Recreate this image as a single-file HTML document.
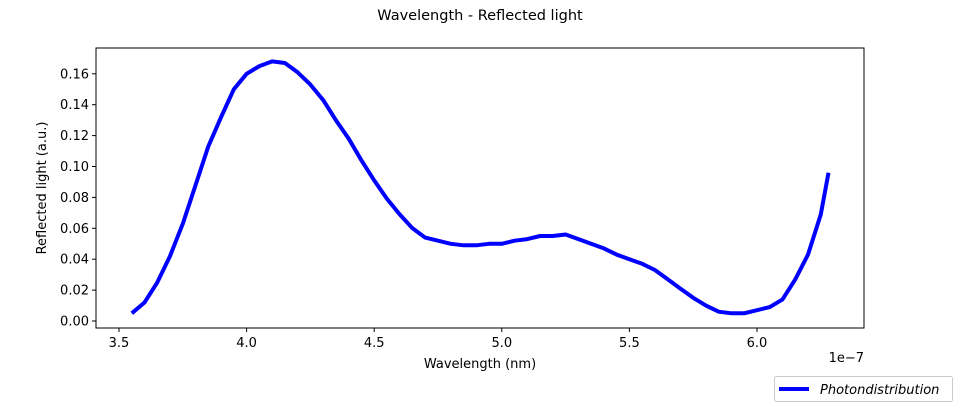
<!DOCTYPE html>
<html><head><meta charset="utf-8"><style>
body{margin:0;background:#fff;width:960px;height:409px;overflow:hidden}
svg text{font-family:"DejaVu Sans","Liberation Sans",sans-serif;fill:#000}
</style></head><body>
<svg id="chart" width="960" height="409" xmlns="http://www.w3.org/2000/svg">
<text x="480" y="20" font-size="14.5" text-anchor="middle">Wavelength - Reflected light</text>
<g id="ticks"></g>
<path id="line" fill="none" stroke="#0000ff" stroke-width="4" stroke-linejoin="round"/>
<rect x="96" y="48" width="768" height="280" fill="none" stroke="#000" stroke-width="1"/>
<text x="480" y="368" font-size="13" text-anchor="middle">Wavelength (nm)</text>
<text transform="translate(46,188) rotate(-90)" font-size="13" text-anchor="middle">Reflected light (a.u.)</text>
<text x="864" y="362" font-size="13" text-anchor="end">1e−7</text>
<g>
<rect x="774.5" y="376.5" width="178" height="25" rx="2" fill="#fff" stroke="#ccc"/>
<line x1="779" y1="389" x2="809" y2="389" stroke="#0000ff" stroke-width="4"/>
<text x="820" y="394" font-size="13" font-style="italic">Photondistribution</text>
</g>
</svg>
<script>
const wavelengths=[3.55,3.6,3.65,3.7,3.75,3.8,3.85,3.9,3.95,4.0,4.05,4.1,4.15,4.2,4.25,4.3,4.35,4.4,4.45,4.5,4.55,4.6,4.65,4.7,4.75,4.8,4.85,4.9,4.95,5.0,5.05,5.1,5.15,5.2,5.25,5.3,5.35,5.4,5.45,5.5,5.55,5.6,5.65,5.7,5.75,5.8,5.85,5.9,5.95,6.0,6.05,6.1,6.15,6.2,6.25,6.28];
const reflected=[0.005,0.012,0.025,0.042,0.063,0.088,0.113,0.132,0.150,0.160,0.165,0.168,0.167,0.161,0.153,0.143,0.130,0.118,0.104,0.091,0.079,0.069,0.060,0.054,0.052,0.050,0.049,0.049,0.050,0.050,0.052,0.053,0.055,0.055,0.056,0.053,0.050,0.047,0.043,0.040,0.037,0.033,0.027,0.021,0.015,0.010,0.006,0.005,0.005,0.007,0.009,0.014,0.027,0.043,0.069,0.096];
const xTicks=[3.5,4.0,4.5,5.0,5.5,6.0];
const yTicks=[0,0.02,0.04,0.06,0.08,0.10,0.12,0.14,0.16];
const xs=v=>119+(v-3.5)*255.2;
const ys=v=>321-v*1545;
const ns="http://www.w3.org/2000/svg";
const g=document.getElementById('ticks');
function mk(t,a){const e=document.createElementNS(ns,t);for(const k in a)e.setAttribute(k,a[k]);g.appendChild(e);return e;}
xTicks.forEach(v=>{
  const l=mk('line',{x1:xs(v),x2:xs(v),y1:328,y2:332,stroke:'#000'});
  
  
  const t=mk('text',{x:xs(v),y:347,'font-size':13,'text-anchor':'middle'});
  
  
  t.textContent=v.toFixed(1);
});
yTicks.forEach(v=>{
  const l=mk('line',{x1:92,x2:96,y1:ys(v),y2:ys(v),stroke:'#000'});
  
  
  const t=mk('text',{x:89,y:ys(v)+4.5,'font-size':13,'text-anchor':'end'});
  
  
  t.textContent=v.toFixed(2);
});
document.getElementById('line').setAttribute('d',wavelengths.map((w,i)=>(i?'L':'M')+xs(w).toFixed(1)+','+ys(reflected[i]).toFixed(1)).join(''));
</script>
</body></html>
